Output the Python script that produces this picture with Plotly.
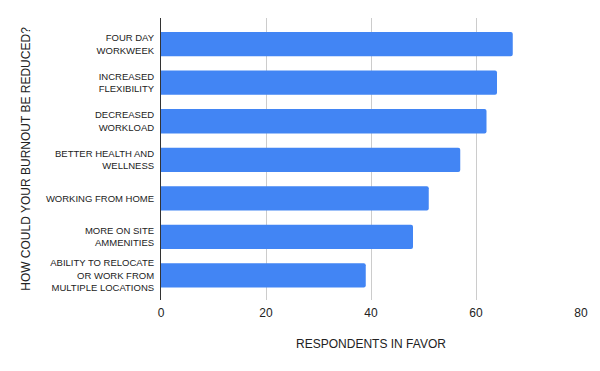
import plotly.graph_objects as go

categories = [
    "FOUR DAY<br>WORKWEEK",
    "INCREASED<br>FLEXIBILITY",
    "DECREASED<br>WORKLOAD",
    "BETTER HEALTH AND<br>WELLNESS",
    "WORKING FROM HOME",
    "MORE ON SITE<br>AMMENITIES",
    "ABILITY TO RELOCATE<br>OR WORK FROM<br>MULTIPLE LOCATIONS",
]
respondents = [67, 64, 62, 57, 51, 48, 39]
x_ticks = [0, 20, 40, 60, 80]

FONT = "Liberation Sans, Arial, sans-serif"

fig = go.Figure(
    go.Bar(
        x=respondents,
        y=categories,
        orientation="h",
        marker=dict(color="#4285F4", line=dict(width=0)),
        width=0.63,
    )
)

fig.update_layout(
    width=600,
    height=371,
    margin=dict(l=161, r=19, t=18, b=71),
    paper_bgcolor="white",
    plot_bgcolor="white",
    showlegend=False,
    barcornerradius=2,
    font=dict(family=FONT, color="#222222"),
)

fig.update_xaxes(
    range=[0, 80],
    tickvals=x_ticks,
    ticktext=[str(v) for v in x_ticks],
    showgrid=True,
    gridcolor="#cccccc",
    gridwidth=1,
    zeroline=False,
    showline=False,
    tickfont=dict(size=12, family=FONT, color="#222222"),
    ticks="",
    ticklabelstandoff=4,
    title=dict(text="RESPONDENTS IN FAVOR", font=dict(size=12, family=FONT, color="#222222"), standoff=20),
    fixedrange=True,
)

fig.update_yaxes(
    categoryorder="array",
    categoryarray=categories,
    range=[6.64, -0.68],
    showgrid=False,
    showline=True,
    linecolor="#333333",
    linewidth=1,
    ticks="",
    ticklabelstandoff=4,
    tickfont=dict(size=9.5, family=FONT, color="#222222"),
    title=dict(text="HOW COULD YOUR BURNOUT BE REDUCED?", font=dict(size=12, family=FONT, color="#222222"), standoff=12),
    automargin=False,
    fixedrange=True,
)

fig.write_html(
    "out.html",
    config={"displayModeBar": False},
    post_script="document.body.style.margin='0';document.body.style.overflow='hidden';",
)
